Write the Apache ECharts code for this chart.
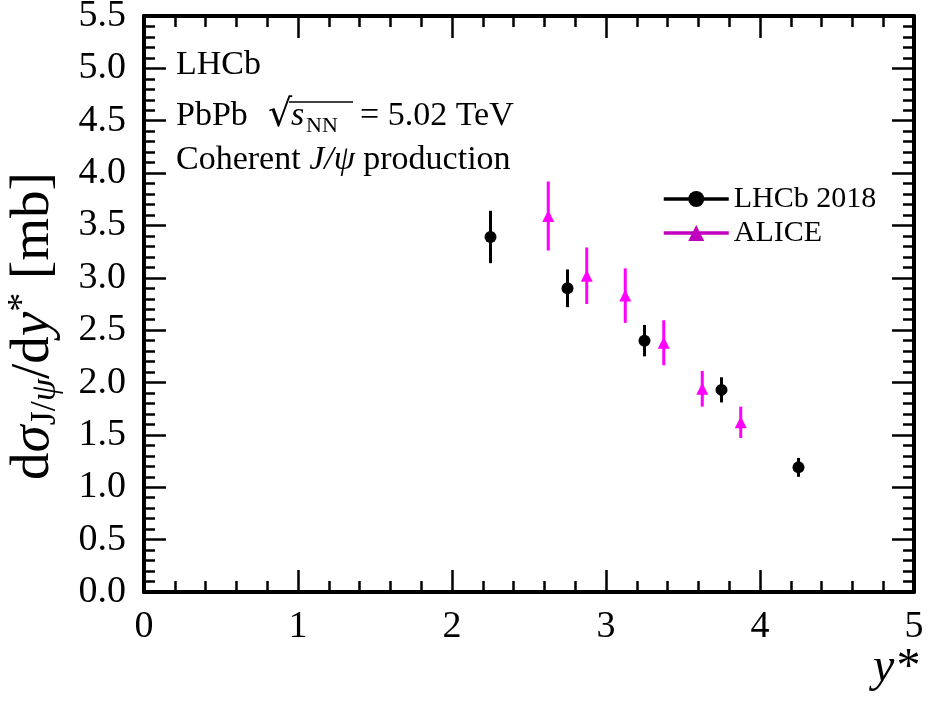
<!DOCTYPE html>
<html>
<head>
<meta charset="utf-8">
<script src="https://cdn.jsdelivr.net/npm/echarts@6/dist/echarts.min.js"></script>
<style>
  html, body { margin: 0; padding: 0; background: #fff; }
  #chart { width: 928px; height: 707px; }
</style>
</head>
<body>
<div id="chart"></div>
<script>
// Coherent J/psi cross-section vs rapidity, PbPb at 5.02 TeV
const lhcbRapidity = [2.25, 2.75, 3.25, 3.75, 4.25];
const lhcbXsec = [3.39, 2.90, 2.40, 1.93, 1.19];
const lhcbErr = [0.25, 0.18, 0.15, 0.12, 0.09];

const aliceRapidity = [2.625, 2.875, 3.125, 3.375, 3.625, 3.875];
const aliceXsec = [3.59, 3.02, 2.83, 2.38, 1.94, 1.62];
const aliceErr = [0.33, 0.27, 0.26, 0.215, 0.17, 0.15];

const xTicks = [0, 1, 2, 3, 4, 5];
const yTicks = [0.0, 0.5, 1.0, 1.5, 2.0, 2.5, 3.0, 3.5, 4.0, 4.5, 5.0, 5.5];

const SERIF = '"Liberation Serif", "DejaVu Serif", serif';
const MAGENTA = '#ff00ff';
const MAGENTA_DARK = '#bf00bf';

const chart = echarts.init(document.getElementById('chart'), null, { renderer: 'canvas' });

function errorBarSeries(name, xs, ys, errs, color) {
  return {
    name: name,
    type: 'custom',
    xAxisIndex: 0,
    yAxisIndex: 0,
    silent: true,
    z: 2,
    data: xs.map((x, i) => [x, ys[i] - errs[i], ys[i] + errs[i]]),
    renderItem: function (params, api) {
      const lo = api.coord([api.value(0), api.value(1)]);
      const hi = api.coord([api.value(0), api.value(2)]);
      return {
        type: 'line',
        shape: { x1: lo[0], y1: lo[1], x2: hi[0], y2: hi[1] },
        style: { stroke: color, lineWidth: 3 }
      };
    }
  };
}

function tickStyle() {
  return {
    axisLine: { show: true, onZero: false, lineStyle: { color: '#000', width: 4 } },
    axisTick: { show: true, inside: true, length: 22, lineStyle: { color: '#000', width: 2.5 } },
    minorTick: { show: true, splitNumber: 5, length: 11, lineStyle: { color: '#000', width: 2.5 } },
    splitLine: { show: false },
    minorSplitLine: { show: false }
  };
}

const option = {
  animation: false,
  backgroundColor: '#fff',
  grid: { left: 144, top: 16, right: 14, bottom: 115, containLabel: false, outerBoundsMode: 'none' },
  xAxis: [
    Object.assign({
      type: 'value', position: 'bottom',
      min: xTicks[0], max: xTicks[xTicks.length - 1], interval: 1,
      axisLabel: { show: true, margin: 16, color: '#000', fontFamily: SERIF, fontSize: 38,
        formatter: v => String(v) },
      name: 'y*',
      nameLocation: 'end',
      nameGap: -41,
      nameMoveOverlap: false,
      nameTextStyle: { fontFamily: SERIF, fontStyle: 'italic', fontSize: 48, color: '#000',
        align: 'left', verticalAlign: 'top', padding: [52, 0, 0, 0] }
    }, tickStyle()),
    Object.assign({
      type: 'value', position: 'top',
      min: xTicks[0], max: xTicks[xTicks.length - 1], interval: 1,
      axisLabel: { show: false }
    }, tickStyle())
  ],
  yAxis: [
    Object.assign({
      type: 'value', position: 'left',
      min: yTicks[0], max: yTicks[yTicks.length - 1], interval: 0.5,
      axisLabel: { show: true, margin: 18, color: '#000', fontFamily: SERIF, fontSize: 38,
        formatter: v => v.toFixed(1) },
      name: '{n|d}{i|σ}{s|J/}{si|ψ}{n|/d}{i|y}{p|*}{n| [mb]}',
      nameLocation: 'middle',
      nameRotate: 90,
      nameGap: 80,
      nameMoveOverlap: false,
      nameTextStyle: {
        color: '#000', fontFamily: SERIF, fontSize: 55,
        padding: [0, 44, 0, 0],
        rich: {
          n: { fontFamily: SERIF, fontSize: 55, color: '#000', lineHeight: 60, verticalAlign: 'middle' },
          i: { fontFamily: SERIF, fontStyle: 'italic', fontSize: 55, color: '#000', lineHeight: 60, verticalAlign: 'middle' },
          s: { fontFamily: SERIF, fontSize: 36, color: '#000', lineHeight: 60, verticalAlign: 'bottom' },
          si: { fontFamily: SERIF, fontStyle: 'italic', fontSize: 36, color: '#000', lineHeight: 60, verticalAlign: 'bottom' },
          p: { fontFamily: SERIF, fontSize: 38, color: '#000', lineHeight: 60, verticalAlign: 'top' }
        }
      }
    }, tickStyle()),
    Object.assign({
      type: 'value', position: 'right',
      min: yTicks[0], max: yTicks[yTicks.length - 1], interval: 0.5,
      axisLabel: { show: false }
    }, tickStyle())
  ],
  legend: {
    orient: 'vertical',
    left: 657,
    top: 179,
    itemWidth: 65,
    itemHeight: 20,
    itemGap: 4,
    textStyle: { fontFamily: SERIF, fontSize: 30, color: '#000', lineHeight: 30 },
    data: [
      { name: 'LHCb 2018', itemStyle: { color: '#000' }, lineStyle: { color: '#000', width: 3.5, opacity: 1 } },
      { name: 'ALICE', itemStyle: { color: MAGENTA_DARK }, lineStyle: { color: MAGENTA_DARK, width: 3.5, opacity: 1 } }
    ]
  },
  graphic: [
    { type: 'text', left: 176, top: 48, style: { text: 'LHCb', font: '34px ' + SERIF, fill: '#000' } },
    { type: 'group', left: 176, top: 97, children: [
      { type: 'text', x: 0, y: 2, style: { text: 'PbPb', font: '34px ' + SERIF, fill: '#000' } },
      { type: 'text', x: 92, y: 0, style: { text: '√', font: '38px "DejaVu Serif", serif', fill: '#000' } },
      { type: 'line', shape: { x1: 113, y1: 5, x2: 177, y2: 5 }, style: { stroke: '#000', lineWidth: 1.6 } },
      { type: 'text', x: 115, y: 2, style: { text: 's', font: 'italic 34px ' + SERIF, fill: '#000' } },
      { type: 'text', x: 130, y: 18, style: { text: 'NN', font: '22px ' + SERIF, fill: '#000' } },
      { type: 'text', x: 184, y: 2, style: { text: '= 5.02 TeV', font: '34px ' + SERIF, fill: '#000' } }
    ] },
    { type: 'text', left: 176, top: 143, style: {
      text: '{n|Coherent }{i|J/ψ}{n| production}',
      rich: {
        n: { font: '34px ' + SERIF, fill: '#000' },
        i: { font: 'italic 34px ' + SERIF, fill: '#000' }
      }
    } }
  ],
  series: [
    errorBarSeries('LHCb 2018 errors', lhcbRapidity, lhcbXsec, lhcbErr, '#000'),
    errorBarSeries('ALICE errors', aliceRapidity, aliceXsec, aliceErr, MAGENTA),
    {
      name: 'LHCb 2018',
      type: 'line',
      xAxisIndex: 0, yAxisIndex: 0,
      symbol: 'circle',
      symbolSize: 12,
      showSymbol: true,
      lineStyle: { opacity: 0, width: 0 },
      itemStyle: { color: '#000' },
      z: 3,
      data: lhcbRapidity.map((x, i) => [x, lhcbXsec[i]])
    },
    {
      name: 'ALICE',
      type: 'line',
      xAxisIndex: 0, yAxisIndex: 0,
      symbol: 'triangle',
      symbolSize: 12,
      showSymbol: true,
      lineStyle: { opacity: 0, width: 0 },
      itemStyle: { color: MAGENTA },
      z: 3,
      data: aliceRapidity.map((x, i) => [x, aliceXsec[i]])
    }
  ]
};

chart.setOption(option);
</script>
</body>
</html>
